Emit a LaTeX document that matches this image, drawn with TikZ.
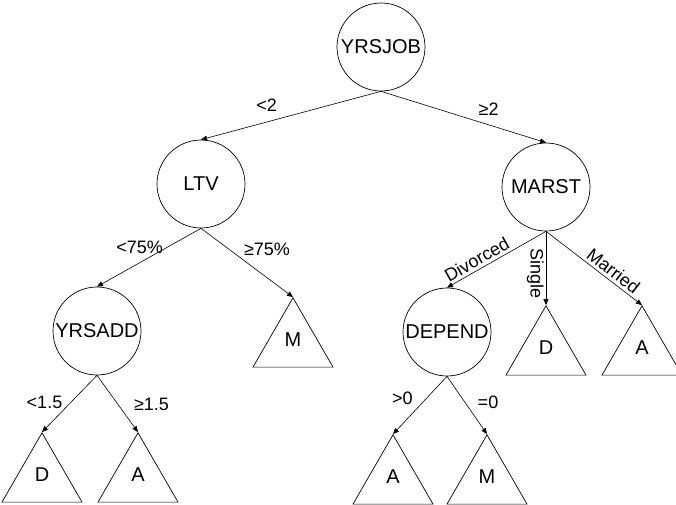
\documentclass[tikz,border=0pt]{standalone}
\usepackage{fontspec}
\setmainfont{Liberation Sans}
\usetikzlibrary{arrows.meta,shapes.geometric}

\tikzset{
  testnode/.style={circle, draw, line width=0.7pt, minimum size=88pt, inner sep=0pt, font=\fontsize{20}{22}\selectfont},
  leafnode/.style={regular polygon, regular polygon sides=3, draw, line width=0.7pt, minimum size=92.4pt, inner sep=0pt, text depth=9pt, font=\fontsize{20}{22}\selectfont},
  branch/.style={-{Triangle[length=6pt,width=5pt]}, line width=0.6pt},
  condlabel/.style={font=\fontsize{18}{20}\selectfont, inner sep=1pt}
}

\begin{document}
\begin{tikzpicture}[x=1pt, y=-1pt]
        \useasboundingbox (0,0) rectangle (676,504);

        % Draw the test nodes
        \node[testnode] (yrsjob) at (381,47) {YRSJOB};
        \node[testnode] (ltv) at (201,184) {LTV};
        \node[testnode] (marst) at (546,187) {MARST};
        \node[testnode] (yrsadd) at (97,331) {YRSADD};
        \node[testnode] (depend) at (447,332) {DEPEND};

        % Draw the leaves
        \node[leafnode] (ltvM) at (293,344) {M};
        \node[leafnode] (addD) at (42,479) {D};
        \node[leafnode] (addA) at (138,479) {A};
        \node[leafnode] (depA) at (393,481) {A};
        \node[leafnode] (depM) at (487,481) {M};
        \node[leafnode] (marD) at (546,352) {D};
        \node[leafnode] (marA) at (642,352) {A};

        % Branches from the root
        \draw[branch] (yrsjob.south) -- (ltv.north) node[condlabel, pos=.636, yshift=16.7pt] {<2};
        \draw[branch] (yrsjob.south) -- (marst.north) node[condlabel, pos=.652, yshift=15.4pt] {≥2};

        % Branches from LTV
        \draw[branch] (ltv.south) -- (yrsadd.north) node[condlabel, pos=.591, yshift=15.9pt] {<75\%};
        \draw[branch] (ltv.south) -- (ltvM.corner 1) node[condlabel, pos=.717, yshift=28.7pt] {≥75\%};

        % Branches from MARST
        \draw[branch] (marst.south) -- (depend.north) node[condlabel, pos=.65, sloped, above, inner sep=3pt] {Divorced};
        \draw[branch] (marst.south) -- (marD.corner 1) node[condlabel, pos=.575, rotate=-90, anchor=north, inner sep=2pt] {Single};
        \draw[branch] (marst.south) -- (marA.corner 1) node[condlabel, pos=.64, sloped, above, inner sep=3pt] {Married};

        % Branches from YRSADD and DEPEND
        \draw[branch] (yrsadd.south) -- (addD.corner 1) node[condlabel, pos=.5, xshift=-25pt, yshift=1pt] {<1.5};
        \draw[branch] (yrsadd.south) -- (addA.corner 1) node[condlabel, pos=.5, xshift=34pt, yshift=-1pt] {≥1.5};
        \draw[branch] (depend.south) -- (depA.corner 1) node[condlabel, pos=.4, xshift=-23pt, yshift=1.5pt] {>0};
        \draw[branch] (depend.south) -- (depM.corner 1) node[condlabel, pos=.45, xshift=23pt] {=0};
    \end{tikzpicture}
\end{document}
